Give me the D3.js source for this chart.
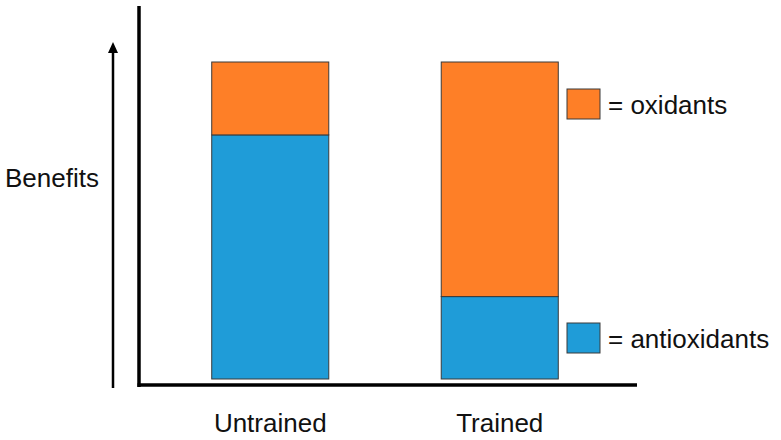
<!DOCTYPE html>
<html><head><meta charset="utf-8">
<script src="https://cdn.jsdelivr.net/npm/d3@7"></script>
<style>html,body{margin:0;padding:0;background:#fff;}svg{display:block;}</style>
</head><body>
<svg id="chart" width="781" height="440"></svg>
<script>
const categories = ["Untrained", "Trained"];
const antioxidants = [77, 26];
const oxidants = [23, 74];
const seriesNames = ["oxidants", "antioxidants"];
const yLabel = "Benefits";

const colors = {oxidants: "#FE7F27", antioxidants: "#1F9CD8"};
const svg = d3.select("#chart");
const font = "'Liberation Sans', Arial, sans-serif";

const x = d3.scaleBand().domain(categories).range([155.5, 614.5]).paddingInner(0.49).paddingOuter(0.245);
const y = d3.scaleLinear().domain([0, 100]).range([379, 62]);

const rows = categories.map((c, i) => ({cat: c, antioxidants: antioxidants[i], oxidants: oxidants[i]}));
const stack = d3.stack().keys(["antioxidants", "oxidants"])(rows);

svg.append("g").selectAll("g").data(stack).join("g")
  .attr("fill", d => colors[d.key])
  .selectAll("rect").data(d => d).join("rect")
  .attr("x", d => x(d.data.cat))
  .attr("y", d => y(d[1]))
  .attr("width", x.bandwidth())
  .attr("height", d => y(d[0]) - y(d[1]))
  .attr("stroke", "#3a3a3a").attr("stroke-width", 1);

// axes lines
svg.append("line").attr("x1", 139).attr("x2", 139).attr("y1", 6).attr("y2", 387)
  .attr("stroke", "#000").attr("stroke-width", 3.5);
svg.append("line").attr("x1", 137.5).attr("x2", 637).attr("y1", 385).attr("y2", 385)
  .attr("stroke", "#000").attr("stroke-width", 3.5);

// arrow
svg.append("defs").append("marker").attr("id", "ah")
  .attr("viewBox", "0 0 10 10").attr("refX", 5).attr("refY", 0)
  .attr("markerWidth", 10).attr("markerHeight", 10).attr("markerUnits", "userSpaceOnUse")
  .attr("orient", "auto-start-reverse")
  .append("path").attr("d", "M0,10 L5,0 L10,10 Z").attr("fill", "#000");
svg.append("line").attr("x1", 113).attr("x2", 113).attr("y1", 388).attr("y2", 50)
  .attr("stroke", "#000").attr("stroke-width", 2.5);
svg.append("path").attr("d", "M108,53 L113,42 L118,53 Z").attr("fill", "#000");

// category labels
svg.append("g").selectAll("text").data(categories).join("text")
  .attr("x", d => x(d) + x.bandwidth() / 2).attr("y", 432)
  .attr("text-anchor", "middle").attr("font-family", font).attr("font-size", 26)
  .attr("fill", "#111").text(d => d);

svg.append("text").attr("x", 5).attr("y", 187).attr("font-family", font)
  .attr("font-size", 26).attr("fill", "#111").text(yLabel);

// legend
const legendY = {oxidants: 89, antioxidants: 323};
const lg = svg.append("g").selectAll("g").data(seriesNames).join("g")
  .attr("transform", d => `translate(567,${legendY[d]})`);
lg.append("rect").attr("width", 33).attr("height", 30)
  .attr("fill", d => colors[d]).attr("stroke", "#3a3a3a").attr("stroke-width", 1);
lg.append("text").attr("x", 41).attr("y", 25).attr("font-family", font)
  .attr("font-size", 26).attr("fill", "#111").text(d => "= " + d);
</script>
</body></html>
